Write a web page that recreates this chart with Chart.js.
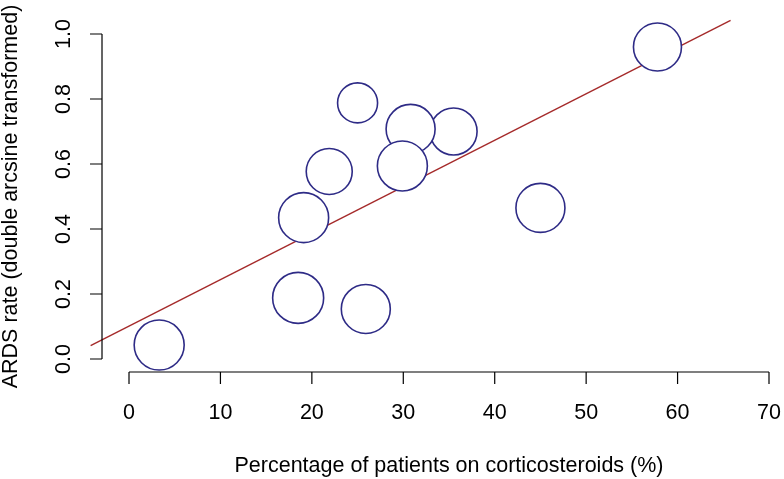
<!DOCTYPE html>
<html>
<head>
<meta charset="utf-8">
<script src="https://cdn.jsdelivr.net/npm/chart.js@4/dist/chart.umd.min.js"></script>
<style>
  html, body { margin: 0; padding: 0; background: #fff; }
  #wrap { width: 784px; height: 479px; }
</style>
</head>
<body>
<div id="wrap"><canvas id="chart" width="784" height="479"></canvas></div>
<script>
// studies: % on corticosteroids vs ARDS rate (double arcsine transformed)
const pctSteroids = [3.3, 18.5, 25.9, 19.1, 21.9, 25.0, 35.5, 30.8, 29.9, 45.0, 57.8];
const ardsRate    = [0.043, 0.188, 0.154, 0.435, 0.577, 0.788, 0.700, 0.708, 0.594, 0.465, 0.960];
const bubbleSize  = [25, 25.5, 24.5, 25, 23, 20, 23.5, 24.5, 25, 24.5, 24];

// regression line end points
const fitX = [-4.2, 65.8];
const fitY = [0.041, 1.042];

const xTicks = [0, 10, 20, 30, 40, 50, 60, 70];
const yTicks = [0, 0.2, 0.4, 0.6, 0.8, 1.0];

const xTitle = 'Percentage of patients on corticosteroids (%)';
const yTitle = 'ARDS rate (double arcsine transformed)';

const FONT = '"Liberation Sans", Arial, Helvetica, sans-serif';

// R-style axes: lines only between first and last tick
const rAxes = {
  id: 'rAxes',
  afterDraw(chart) {
    const ctx = chart.ctx;
    const xs = chart.scales.x, ys = chart.scales.y;
    const axisY = ys.getPixelForValue(0) + 13;
    const axisX = xs.getPixelForValue(0) - 27;
    ctx.save();
    ctx.strokeStyle = '#000';
    ctx.fillStyle = '#000';
    ctx.lineWidth = 1.2;

    // x axis
    ctx.beginPath();
    ctx.moveTo(xs.getPixelForValue(xTicks[0]), axisY);
    ctx.lineTo(xs.getPixelForValue(xTicks[xTicks.length - 1]), axisY);
    xTicks.forEach(v => {
      const px = xs.getPixelForValue(v);
      ctx.moveTo(px, axisY);
      ctx.lineTo(px, axisY + 12);
    });
    ctx.stroke();
    ctx.font = '21.5px ' + FONT;
    ctx.textAlign = 'center';
    ctx.textBaseline = 'middle';
    xTicks.forEach(v => ctx.fillText(String(v), xs.getPixelForValue(v), axisY + 41));

    // y axis
    ctx.beginPath();
    ctx.moveTo(axisX, ys.getPixelForValue(yTicks[0]));
    ctx.lineTo(axisX, ys.getPixelForValue(yTicks[yTicks.length - 1]));
    yTicks.forEach(v => {
      const py = ys.getPixelForValue(v);
      ctx.moveTo(axisX, py);
      ctx.lineTo(axisX - 12, py);
    });
    ctx.stroke();
    yTicks.forEach(v => {
      ctx.save();
      ctx.translate(axisX - 38, ys.getPixelForValue(v));
      ctx.rotate(-Math.PI / 2);
      ctx.fillText(v.toFixed(1), 0, 0);
      ctx.restore();
    });

    // titles
    ctx.fillText(xTitle, (xs.getPixelForValue(0) + xs.getPixelForValue(70)) / 2, axisY + 94);
    ctx.save();
    ctx.translate(axisX - 91, (ys.getPixelForValue(0) + ys.getPixelForValue(1)) / 2);
    ctx.rotate(-Math.PI / 2);
    ctx.fillText(yTitle, 0, 0);
    ctx.restore();
    ctx.restore();
  }
};

new Chart(document.getElementById('chart'), {
  type: 'bubble',
  data: {
    datasets: [
      {
        data: pctSteroids.map((x, i) => ({ x, y: ardsRate[i], r: bubbleSize[i] })),
        backgroundColor: '#ffffff',
        borderColor: '#2e2b86',
        borderWidth: 1.6,
        clip: false,
        order: 0
      },
      {
        type: 'line',
        data: fitX.map((x, i) => ({ x, y: fitY[i] })),
        borderColor: '#a52a2a',
        borderWidth: 1.4,
        pointRadius: 0,
        fill: false,
        clip: false,
        order: 1
      }
    ]
  },
  plugins: [rAxes],
  options: {
    responsive: false,
    animation: false,
    layout: { autoPadding: false, padding: { left: 83.29, right: 15, top: 17.75, bottom: 103.75 } },
    scales: {
      x: { type: 'linear', min: -5, max: 70, display: false },
      y: { type: 'linear', min: -0.05, max: 1.05, display: false }
    },
    plugins: { legend: { display: false }, tooltip: { enabled: false } }
  }
});
</script>
</body>
</html>
